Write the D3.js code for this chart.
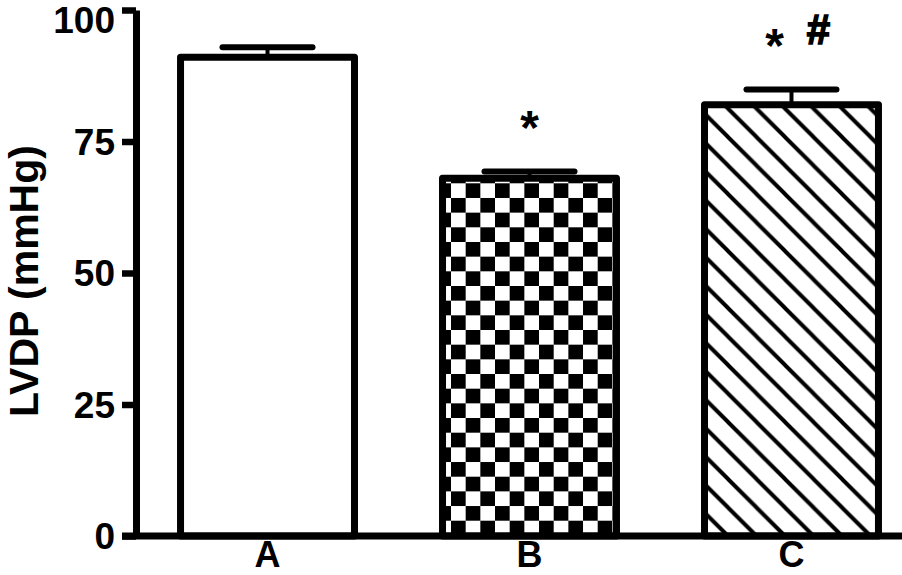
<!DOCTYPE html>
<html>
<head>
<meta charset="utf-8">
<script src="https://cdn.jsdelivr.net/npm/d3@7"></script>
<style>
  html, body { margin: 0; padding: 0; background: #fff; }
  svg { display: block; }
  text { font-family: "Liberation Sans", Arial, Helvetica, sans-serif; font-weight: bold; fill: #000; }
</style>
</head>
<body>
<div id="chart"></div>
<script>
// Data
const groups = ["A", "B", "C"];
const means = [91, 68, 82];
const errors = [1.9, 1.3, 2.9];
const marks = ["", "*", "* #"];
const yTicks = [0, 25, 50, 75, 100];
const yLabel = "LVDP (mmHg)";

const width = 902;
const height = 575;

const svg = d3.select("#chart")
    .append("svg")
    .attr("width", width)
    .attr("height", height);

// Scales
const x = d3.scaleBand()
    .domain(groups)
    .range([136, 923])
    .paddingInner(0.336)
    .paddingOuter(0.17);

const y = d3.scaleLinear()
    .domain([0, 100])
    .range([536, 10]);

// Fill patterns
const defs = svg.append("defs");

const cell = 14.67;
const checker = defs.append("pattern")
    .attr("id", "checker")
    .attr("patternUnits", "userSpaceOnUse")
    .attr("x", 451)
    .attr("y", 183.3)
    .attr("width", cell * 2)
    .attr("height", cell * 2);
checker.append("rect").attr("width", cell * 2).attr("height", cell * 2).attr("fill", "#fff");
checker.append("rect").attr("x", cell).attr("y", 0).attr("width", cell).attr("height", cell).attr("fill", "#000");
checker.append("rect").attr("x", 0).attr("y", cell).attr("width", cell).attr("height", cell).attr("fill", "#000");

const s = 28.5;
const hatch = defs.append("pattern")
    .attr("id", "hatch")
    .attr("patternUnits", "userSpaceOnUse")
    .attr("x", 728)
    .attr("y", 536)
    .attr("width", s)
    .attr("height", s);
hatch.append("rect").attr("width", s).attr("height", s).attr("fill", "#fff");
hatch.append("path")
    .attr("d", `M-2,-2 L${s + 2},${s + 2} M-2,${s - 2} L2,${s + 2} M${s - 2},-2 L${s + 2},2`)
    .attr("stroke", "#000")
    .attr("stroke-width", 4);

const fills = ["#fff", "url(#checker)", "url(#hatch)"];

// Error bars (drawn first so the bar outline covers the stem)
const err = svg.append("g");
groups.forEach((g, i) => {
    const cx = x(g) + x.bandwidth() / 2;
    err.append("line")
        .attr("x1", cx).attr("x2", cx)
        .attr("y1", y(means[i])).attr("y2", y(means[i] + errors[i]))
        .attr("stroke", "#000").attr("stroke-width", 4);
    err.append("line")
        .attr("x1", cx - 45).attr("x2", cx + 45)
        .attr("y1", y(means[i] + errors[i])).attr("y2", y(means[i] + errors[i]))
        .attr("stroke", "#000").attr("stroke-width", 6)
        .attr("stroke-linecap", "round");
});

// Bars
svg.append("g")
    .selectAll("rect")
    .data(groups)
    .join("rect")
    .attr("x", d => x(d))
    .attr("y", (d, i) => y(means[i]))
    .attr("width", x.bandwidth())
    .attr("height", (d, i) => y(0) - y(means[i]))
    .attr("fill", (d, i) => fills[i])
    .attr("stroke", "#000")
    .attr("stroke-width", 7)
    .attr("stroke-linejoin", "round");

// Significance marks
groups.forEach((g, i) => {
    if (!marks[i]) return;
    const cx = x(g) + x.bandwidth() / 2;
    const top = y(means[i] + errors[i]);
    const syms = marks[i].split(" ");
    const gap = 44;
    syms.forEach((sym, j) => {
        const sx = cx + (j - (syms.length - 1) / 2) * gap;
        if (sym === "*") {
            svg.append("text")
                .attr("x", sx + (syms.length > 1 ? 5 : 0))
                .attr("y", top - 51 + 24)
                .attr("text-anchor", "middle")
                .style("font-size", "48px")
                .text(sym);
        } else {
            svg.append("text")
                .attr("x", sx + 5)
                .attr("y", top - 45)
                .attr("text-anchor", "middle")
                .style("font-size", "42px")
                .attr("stroke", "#000")
                .attr("stroke-width", 1.6)
                .text(sym);
        }
    });
});

// Y axis
const yAxis = svg.append("g")
    .attr("transform", "translate(136,0)")
    .call(d3.axisLeft(y).tickValues(yTicks).tickSize(14).tickSizeOuter(0).tickPadding(7));
yAxis.select(".domain").attr("stroke", "#000").attr("stroke-width", 7);
yAxis.selectAll(".tick line").attr("stroke", "#000").attr("stroke-width", 6.5);
yAxis.selectAll(".tick text")
    .style("font-size", "37px")
    .style("font-family", "\"Liberation Sans\", Arial, sans-serif")
    .style("font-weight", "bold")
    .attr("fill", "#000")
    .attr("dy", d => d === 100 ? "0.62em" : "0.35em");

// X axis baseline
svg.append("line")
    .attr("x1", 122).attr("x2", width)
    .attr("y1", y(0)).attr("y2", y(0))
    .attr("stroke", "#000").attr("stroke-width", 7);

// Category labels
svg.append("g")
    .selectAll("text")
    .data(groups)
    .join("text")
    .attr("x", d => x(d) + x.bandwidth() / 2)
    .attr("y", 567)
    .attr("text-anchor", "middle")
    .style("font-size", "36px")
    .text(d => d);

// Y axis title
svg.append("text")
    .attr("transform", "translate(38,281) rotate(-90)")
    .attr("text-anchor", "middle")
    .style("font-size", "41px")
    .text(yLabel);
</script>
</body>
</html>
